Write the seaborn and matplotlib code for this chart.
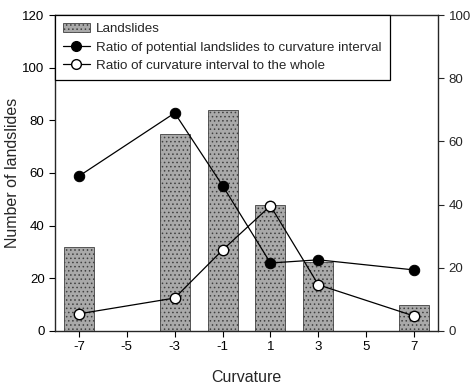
import matplotlib
matplotlib.use("Agg")
import matplotlib.pyplot as plt
import seaborn as sns
import pandas as pd
from matplotlib.lines import Line2D
from matplotlib.patches import Patch

sns.set_style("ticks")
plt.rcParams['font.family'] = ['Liberation Sans', 'DejaVu Sans']
plt.rcParams['hatch.color'] = '#555555'
plt.rcParams['hatch.linewidth'] = 0.6

curvature = [-7, -3, -1, 1, 3, 7]
landslides = [32, 75, 84, 48, 26, 10]
ratio_potential = [49, 69, 46, 21.5, 22.5, 19.3]
ratio_interval = [5.4, 10.4, 25.6, 39.6, 14.6, 4.7]
x_ticks = [-7, -5, -3, -1, 1, 3, 5, 7]

df = pd.DataFrame({
    'Curvature': curvature,
    'Landslides': landslides,
    'Potential': ratio_potential,
    'Interval': ratio_interval,
})

bar_color = '#a9a9a9'

fig = plt.figure(figsize=(4.7, 3.87), dpi=100)
ax = fig.add_axes([0.117, 0.145, 0.815, 0.816])

sns.barplot(
    x='Curvature',
    y='Landslides',
    data=df,
    native_scale=True,
    width=0.625,
    color=bar_color,
    saturation=1,
    edgecolor='#404040',
    linewidth=0.6,
    hatch='....',
    ax=ax
)

ax.set_xlim(-8, 8)
ax.set_ylim(0, 120)
ax.set_xticks(x_ticks)
ax.set_xticklabels([str(t) for t in x_ticks])
ax.set_yticks(range(0, 121, 20))
ax.set_xlabel("Curvature", fontsize=11.5, labelpad=12)
ax.set_ylabel("Number of landslides", fontsize=11.5, labelpad=2)
ax.tick_params(labelsize=9.5, length=4, width=0.8, colors='black')
for s in ax.spines.values():
    s.set_linewidth(0.9)
    s.set_color('black')

ax2 = ax.twinx()
sns.lineplot(
    x='Curvature', y='Potential', data=df, ax=ax2,
    color='black', linewidth=0.9, marker='o', markersize=7.5,
    markerfacecolor='black', markeredgecolor='black'
)
sns.lineplot(
    x='Curvature', y='Interval', data=df, ax=ax2,
    color='black', linewidth=0.9, marker='o', markersize=7.5,
    markerfacecolor='white', markeredgecolor='black', markeredgewidth=1
)
ax2.set_ylim(0, 100)
ax2.set_yticks(range(0, 101, 20))
ax2.set_ylabel("")
ax2.tick_params(labelsize=9.5, length=4, width=0.8)
ax2.set_zorder(ax.get_zorder() + 1)
ax2.patch.set_visible(False)

handles = [
    Patch(facecolor=bar_color, edgecolor='#404040', hatch='....', linewidth=0.6),
    Line2D([], [], color='black', linewidth=0.9, marker='o', markersize=7,
           markerfacecolor='black'),
    Line2D([], [], color='black', linewidth=0.9, marker='o', markersize=7,
           markerfacecolor='white'),
]
labels = [
    "Landslides",
    "Ratio of potential landslides to curvature interval",
    "Ratio of curvature interval to the whole",
]
leg = ax2.legend(handles, labels, loc='upper left', borderaxespad=0,
                 fontsize=9.6, frameon=True, fancybox=False, edgecolor='black',
                 handlelength=2.0, handletextpad=0.5, labelspacing=0.45,
                 borderpad=0.6)
leg.get_frame().set_linewidth(0.9)
leg.get_frame().set_alpha(1)

plt.savefig("out.png", dpi=100)
